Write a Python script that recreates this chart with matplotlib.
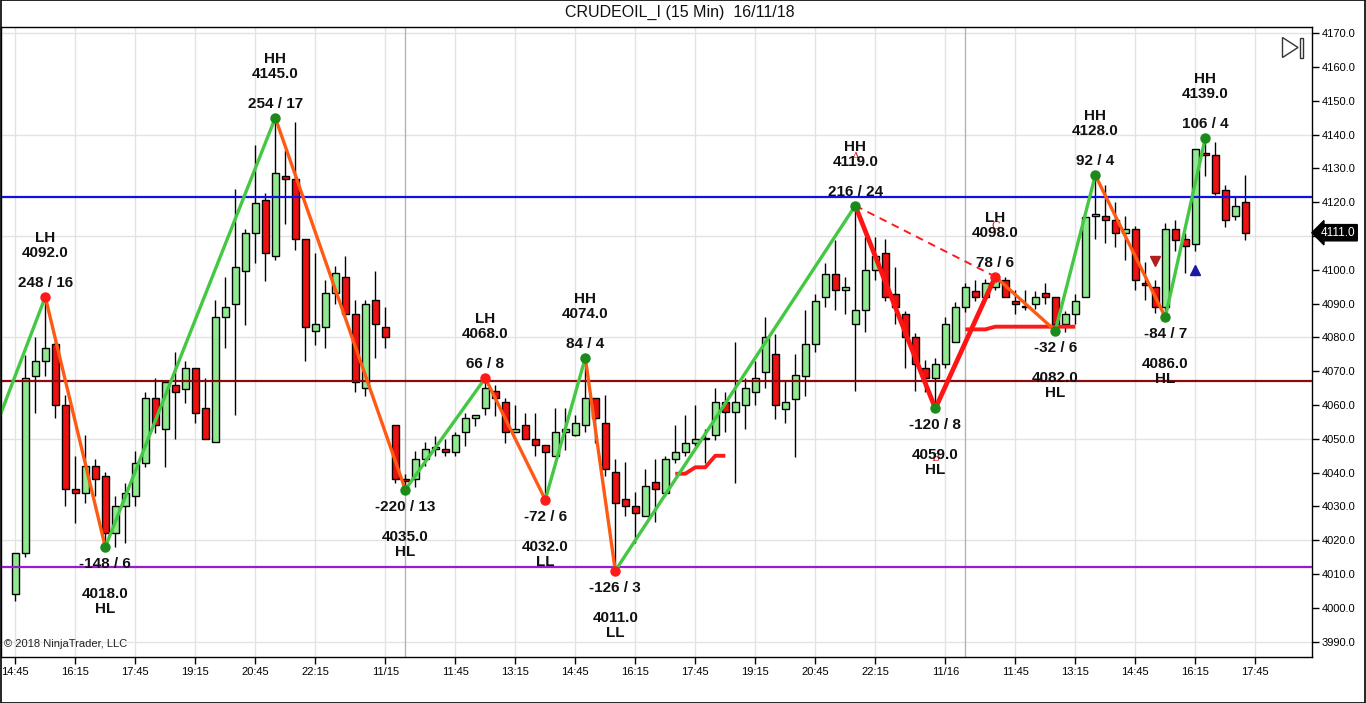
"""
CRUDEOIL_I 15-minute candlestick chart with swing zigzag labels.
"""

import numpy as np
import matplotlib
matplotlib.use("Agg")
import matplotlib.pyplot as plt
from matplotlib.patches import Polygon, Rectangle

# ---- candle data (bar index 0..123) ----
opens = [4004.1, 4016.2, 4068.7, 4072.9, 4078.0, 4060.1, 4035.1, 4033.9, 4042.0, 4038.9,
         4022.1, 4030.0, 4033.0, 4043.0, 4062.0, 4052.9, 4066.0, 4064.9, 4070.9, 4059.1,
         4049.0, 4086.0, 4089.8, 4099.8, 4110.8, 4120.8, 4104.1, 4127.7, 4126.8, 4109.0,
         4081.9, 4083.0, 4093.1, 4097.8, 4086.9, 4065.0, 4091.1, 4083.0, 4054.1, 4038.2,
         4038.1, 4044.0, 4047.0, 4047.0, 4046.0, 4051.9, 4056.1, 4059.1, 4064.3, 4060.8,
         4051.9, 4054.1, 4049.9, 4048.1, 4044.8, 4052.0, 4051.2, 4054.1, 4062.0, 4054.8,
         4040.1, 4032.2, 4030.0, 4027.1, 4037.1, 4033.9, 4044.0, 4046.0, 4048.9, 4049.9,
         4051.2, 4060.8, 4057.9, 4059.9, 4064.0, 4069.9, 4075.1, 4058.9, 4061.8, 4068.7,
         4078.1, 4091.9, 4098.8, 4094.0, 4084.0, 4088.1, 4100.0, 4104.9, 4093.0, 4086.9,
         4080.0, 4070.9, 4067.9, 4072.2, 4078.8, 4088.9, 4093.8, 4091.9, 4095.0, 4097.0,
         4090.9, 4089.1, 4089.9, 4093.1, 4091.9, 4084.0, 4086.9, 4092.1, 4116.0, 4115.9,
         4114.9, 4110.8, 4112.0, 4096.0, 4094.8, 4089.0, 4112.0, 4109.0, 4107.8, 4134.6,
         4133.9, 4123.6, 4115.9, 4120.1]
highs = [4016.2, 4074.8, 4080.1, 4092.0, 4079.0, 4063.0, 4045.0, 4051.2, 4044.0, 4040.1,
         4033.2, 4036.9, 4046.3, 4064.0, 4067.9, 4067.0, 4075.8, 4072.9, 4071.0, 4067.9,
         4091.1, 4098.0, 4123.8, 4112.0, 4136.9, 4122.8, 4145.0, 4135.4, 4143.8, 4109.0,
         4104.9, 4097.0, 4101.1, 4104.1, 4091.1, 4091.1, 4099.8, 4088.9, 4054.1, 4039.5,
         4046.3, 4049.2, 4051.0, 4049.9, 4051.9, 4057.6, 4057.1, 4068.0, 4066.0, 4062.0,
         4060.1, 4057.8, 4057.8, 4048.1, 4059.1, 4059.1, 4057.1, 4074.0, 4062.0, 4063.0,
         4044.0, 4043.3, 4034.2, 4041.1, 4044.0, 4045.0, 4054.1, 4057.1, 4060.1, 4052.9,
         4065.0, 4064.0, 4078.8, 4068.0, 4072.9, 4086.2, 4081.1, 4067.0, 4075.1, 4088.1,
         4093.0, 4102.1, 4108.8, 4097.8, 4119.0, 4109.8, 4109.8, 4109.0, 4100.9, 4087.9,
         4081.4, 4073.4, 4073.8, 4086.2, 4090.6, 4096.0, 4097.0, 4097.2, 4098.0, 4098.0,
         4094.0, 4094.0, 4093.8, 4096.0, 4091.9, 4087.9, 4092.9, 4115.7, 4128.0, 4125.1,
         4120.1, 4115.9, 4113.0, 4102.4, 4097.0, 4113.8, 4114.9, 4110.8, 4135.9, 4139.0,
         4137.9, 4125.1, 4121.6, 4128.0]
lows = [4001.9, 4015.0, 4057.8, 4068.6, 4056.1, 4030.0, 4025.1, 4031.0, 4033.0, 4018.0,
        4018.0, 4019.2, 4030.0, 4041.8, 4051.7, 4041.8, 4049.9, 4060.5, 4054.8, 4049.9,
        4049.0, 4076.8, 4057.1, 4083.7, 4101.9, 4096.8, 4102.9, 4113.7, 4105.9, 4072.9,
        4077.8, 4076.8, 4089.9, 4086.9, 4064.0, 4062.7, 4073.8, 4076.8, 4036.9, 4035.0,
        4035.9, 4042.0, 4045.0, 4044.8, 4044.8, 4047.9, 4053.9, 4057.1, 4056.8, 4048.9,
        4051.9, 4049.9, 4044.8, 4032.0, 4044.8, 4046.7, 4050.9, 4051.9, 4048.9, 4038.9,
        4011.0, 4027.1, 4019.2, 4027.1, 4025.3, 4033.0, 4043.0, 4045.0, 4047.9, 4043.0,
        4049.7, 4051.9, 4036.9, 4052.9, 4059.9, 4065.0, 4055.8, 4054.8, 4044.7, 4062.7,
        4075.8, 4088.9, 4088.1, 4087.0, 4064.3, 4081.7, 4097.0, 4090.9, 4084.0, 4070.9,
        4064.3, 4064.0, 4059.0, 4070.9, 4078.8, 4087.6, 4090.9, 4091.6, 4094.0, 4091.9,
        4086.9, 4088.0, 4088.3, 4089.9, 4082.0, 4081.7, 4084.0, 4092.0, 4109.0, 4108.0,
        4106.8, 4102.9, 4094.0, 4091.1, 4087.1, 4086.0, 4105.7, 4099.0, 4105.7, 4127.7,
        4122.1, 4112.8, 4114.9, 4108.8]
closes = [4016.2, 4067.9, 4072.9, 4076.8, 4060.1, 4035.1, 4033.9, 4042.0, 4038.1, 4022.1,
          4030.0, 4033.9, 4043.0, 4062.0, 4054.1, 4066.9, 4064.0, 4070.9, 4057.8, 4049.9,
          4086.0, 4088.9, 4100.9, 4110.8, 4119.9, 4104.9, 4128.7, 4126.8, 4109.0, 4083.0,
          4084.0, 4093.1, 4099.0, 4086.9, 4066.9, 4089.9, 4084.0, 4080.1, 4038.1, 4037.6,
          4044.0, 4046.9, 4047.5, 4046.0, 4051.2, 4056.1, 4057.1, 4065.0, 4062.0, 4051.9,
          4052.9, 4049.9, 4048.1, 4046.0, 4052.0, 4053.0, 4054.8, 4062.0, 4056.1, 4041.1,
          4031.0, 4030.2, 4028.0, 4036.1, 4035.1, 4044.0, 4046.0, 4048.9, 4049.9, 4050.2,
          4060.8, 4057.9, 4060.8, 4065.0, 4068.0, 4080.1, 4059.9, 4060.8, 4068.9, 4078.1,
          4090.9, 4098.8, 4094.0, 4094.8, 4088.0, 4100.0, 4104.1, 4092.1, 4088.9, 4080.0,
          4072.2, 4067.9, 4072.2, 4084.0, 4088.9, 4094.8, 4091.9, 4096.0, 4097.0, 4091.9,
          4089.9, 4089.0, 4091.9, 4092.1, 4084.0, 4086.9, 4090.9, 4115.7, 4116.5, 4114.9,
          4110.8, 4112.0, 4097.0, 4095.5, 4089.1, 4112.0, 4108.8, 4107.0, 4135.9, 4133.9,
          4122.8, 4114.9, 4118.8, 4111.0]

# ---- swing points (first one is off-screen, only used for the first leg) ----
swing_bars = [-13, 3, 9, 26, 39, 47, 53, 57, 60, 84, 92, 98, 104, 108, 115, 119]
swing_prices = [3968, 4092, 4018, 4145, 4035, 4068, 4032, 4074, 4011, 4119, 4059, 4098,
                4082, 4128, 4086, 4139]
swing_tags = ['', 'LH', 'HL', 'HH', 'HL', 'LH', 'LL', 'HH', 'LL', 'HH', 'HL', 'LH',
              'HL', 'HH', 'HL', 'HH']

# horizontal levels
level_prices = [4121.7, 4067.0, 4012.0]

# red trend segments
trend1_bars = [66, 67, 68, 69, 70, 71]
trend1_vals = [4039.7, 4039.7, 4041.6, 4041.6, 4045.0, 4045.0]
trend2_bars = [95, 96, 97, 98, 99, 100, 101, 102, 103, 104, 105, 106]
trend2_vals = [4082.4, 4082.4, 4082.4, 4083.2, 4083.2, 4083.2, 4083.2, 4083.2, 4083.2,
               4083.2, 4083.2, 4083.2]

# signal arrows and wave letters
sig_down_bar, sig_down_price = 114, 4102.7
sig_up_bar, sig_up_price = 118, 4100.1
wave_bars = [84, 92, 98]
wave_prices = [4133.5, 4044.3, 4113.0]
wave_letters = ['A', 'B', 'C']

# x axis ticks and session breaks
tick_bars = [0, 6, 12, 18, 24, 30, 37, 44, 50, 56, 62, 68, 74, 80, 86, 93, 100, 106,
             112, 118, 124]
tick_labels = ['14:45', '16:15', '17:45', '19:15', '20:45', '22:15', '11/15', '11:45',
               '13:15', '14:45', '16:15', '17:45', '19:15', '20:45', '22:15', '11/16',
               '11:45', '13:15', '14:45', '16:15', '17:45']
session_bars = [39, 95]

W, H = 1366, 703


def fig_xy(px, py):
    """Figure pixel (from top-left) to figure fraction."""
    return px / W, 1 - py / H


def main():
    plt.rcParams['font.family'] = ['Liberation Sans', 'DejaVu Sans']

    fig = plt.figure(figsize=(W / 100, H / 100), dpi=100)
    ax = fig.add_axes([1 / W, 1 - 657 / H, 1311 / W, 630 / H])

    o = np.array(opens)
    h = np.array(highs)
    lo = np.array(lows)
    c = np.array(closes)
    x = np.arange(len(o))

    ax.set_xlim(-1.43, 129.67)
    ax.set_ylim(3985.47, 4171.86)

    # grid
    for gy in range(3990, 4171, 30):
        ax.axhline(gy, color='#e3e3e3', lw=1, zorder=0)
    for tb in tick_bars:
        ax.axvline(tb, color='#e3e3e3', lw=1, zorder=0)
    for sb in session_bars:
        ax.axvline(sb, color='#b4b4b4', lw=1, zorder=0.5)

    # candles
    up = c >= o
    colors = np.where(up, '#90e890', '#ee1111')
    ax.vlines(x, lo, h, color='black', lw=1, zorder=2)
    ax.bar(x, np.maximum(np.abs(c - o), 0.35), bottom=np.minimum(o, c), width=0.68,
           color=colors, edgecolor='black', linewidth=1, zorder=3)

    # levels
    for price, col in zip(level_prices, ['#1010e0', '#8b0a0a', '#9a1ad0']):
        ax.axhline(price, color=col, lw=1.6, zorder=3.5)

    # red trend segments
    ax.plot(trend1_bars, trend1_vals, color='#ff1a1a', lw=2.8, zorder=3.6,
            solid_capstyle='butt')
    ax.plot(trend2_bars, trend2_vals, color='#ff1a1a', lw=2.8, zorder=3.6,
            solid_capstyle='butt')

    # zigzag legs
    red_legs = [(84, 92), (92, 98)]
    for i in range(1, len(swing_bars)):
        b0, b1 = swing_bars[i - 1], swing_bars[i]
        p0, p1 = swing_prices[i - 1], swing_prices[i]
        if (b0, b1) in red_legs:
            col, lw = '#ff1414', 3.4
        elif p1 > p0:
            col, lw = '#44c844', 2.4
        else:
            col, lw = '#ff5a14', 2.4
        ax.plot([b0, b1], [p0, p1], color=col, lw=lw, zorder=4,
                solid_capstyle='round')
    # dashed link A -> C
    ia, ic = swing_bars.index(84), swing_bars.index(98)
    ax.plot([84, 98], [swing_prices[ia], swing_prices[ic]], color='#ff1a1a', lw=1.4,
            ls=(0, (4, 3)), zorder=4)

    # wave letters (drawn under the labels, as in the source chart)
    for b, p, letter in zip(wave_bars, wave_prices, wave_letters):
        ax.text(b, p, letter, color='#e01e1e', fontsize=8, ha='center', va='center',
                family='DejaVu Serif', zorder=6)

    # dots and labels
    txt = dict(ha='center', va='center', fontsize=11, fontweight='bold',
               textcoords='offset pixels', zorder=7, color='#111111')
    for i in range(1, len(swing_bars)):
        b, p, tag = swing_bars[i], swing_prices[i], swing_tags[i]
        db = b - swing_bars[i - 1]
        dp = p - swing_prices[i - 1]
        stat = f'{int(round(dp * 2))} / {db}'
        dot = '#1b8a1b' if tag in ('HH', 'HL') else '#ff1a1a'
        ax.plot(b, p, 'o', ms=6.5, color=dot, mec=dot, zorder=5)
        if tag in ('HH', 'LH'):
            offs = (14, 44, 59)
        else:
            offs = (-17, -47, -62)
        ax.annotate(stat, (b, p), xytext=(0, offs[0]), **txt)
        ax.annotate(f'{p:.1f}', (b, p), xytext=(0, offs[1]), **txt)
        ax.annotate(tag, (b, p), xytext=(0, offs[2]), **txt)

    # signal arrows
    ax.plot(sig_down_bar, sig_down_price, 'v', ms=7, color='#b02020', zorder=5)
    ax.plot(sig_up_bar, sig_up_price, '^', ms=7, color='#1a1aa0', zorder=5)

    # axes styling
    for sp in ax.spines.values():
        sp.set_color('black')
        sp.set_linewidth(1)
    ax.set_xticks(tick_bars)
    ax.set_xticklabels(tick_labels)
    ax.yaxis.tick_right()
    yvals = np.arange(3990, 4171, 10)
    last = c[-1]
    ax.set_yticks(yvals)
    # the label nearest the live price sits under the price tag
    ax.set_yticklabels(['' if abs(v - last) < 5 else f'{v:.1f}' for v in yvals])
    ax.tick_params(axis='both', direction='out', length=5, width=1, labelsize=8,
                   colors='black', pad=2)

    # current price tag
    ax.text(1.0065, last, f'{last:.1f}', transform=ax.get_yaxis_transform(),
            ha='left', va='center', color='white', fontsize=8.5, zorder=10,
            clip_on=False,
            bbox=dict(boxstyle='larrow,pad=0.18', fc='black', ec='black'))

    # title and copyright
    fig.text(*fig_xy(680, 12), 'CRUDEOIL_I (15 Min)  16/11/18', ha='center',
             va='center', fontsize=11.5, color='#111111')
    ax.text(0.002, 0.012, '\u00a9 2018 NinjaTrader, LLC', transform=ax.transAxes,
            ha='left', va='bottom', fontsize=8, color='#222222', zorder=7)

    # scroll-to-end icon
    tri = [fig_xy(1282.5, 37.5), fig_xy(1282.5, 57.5), fig_xy(1298, 47.5)]
    fig.patches.append(Polygon(tri, closed=True, fill=False, ec='#333333', lw=1,
                               transform=fig.transFigure))
    rx, ry = fig_xy(1299.5, 57.5)
    fig.patches.append(Rectangle((rx, ry), 3 / W, 20 / H, fill=False, ec='#333333',
                                 lw=1, transform=fig.transFigure))

    # outer frame
    fig.patches.append(Rectangle((0.0004, 0.0007), 0.9992, 0.9986, fill=False,
                                 ec='black', lw=1.2, transform=fig.transFigure))

    fig.savefig('out.png', dpi=100)


if __name__ == '__main__':
    main()
